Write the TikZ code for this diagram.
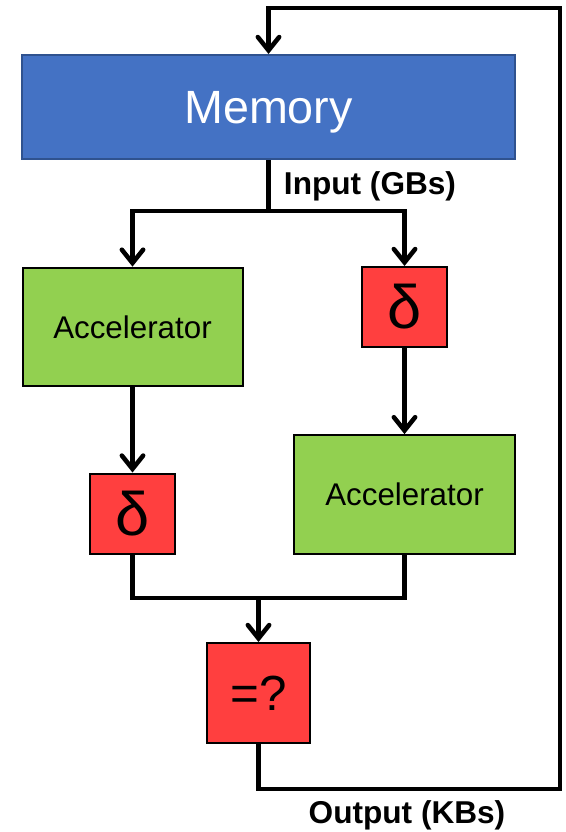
\documentclass[tikz,border=0pt]{standalone}
\usepackage{fontspec}
\setmainfont{Liberation Sans}
\usetikzlibrary{arrows.meta}
\definecolor{memblue}{HTML}{4472C4}
\definecolor{memedge}{HTML}{2F528F}
\definecolor{accgreen}{HTML}{92D050}
\definecolor{dred}{HTML}{FF3F3F}
\tikzset{
  box/.style={draw=black, line width=1.5pt, inner sep=0pt, anchor=center},
  membox/.style={box, fill=memblue, draw=memedge, text=white, font=\fontsize{35}{40}\selectfont},
  accbox/.style={box, fill=accgreen, font=\fontsize{23.5}{28}\selectfont},
  redbox/.style={box, fill=dred},
  conn/.style={line width=3.4pt, line join=miter},
  arr/.style={conn, -{Straight Barb[length=10pt,width=16pt,line cap=round]}},
  lbl/.style={font=\fontsize{23.7}{28}\selectfont\bfseries, inner sep=0pt}
}
\begin{document}
\begin{tikzpicture}[x=0.75pt, y=-0.75pt]
\useasboundingbox (0,0) rectangle (566,832);
\node[membox, minimum width=369.75pt, minimum height=78pt, text depth=-2pt] (mem) at (268.5,107) {Memory};
\node[accbox, minimum width=165pt, minimum height=89pt] (acc1) at (132.5,327) {Accelerator};
\node[redbox, minimum width=63.75pt, minimum height=60pt, font=\fontsize{46}{50}\selectfont] (d2) at (404.5,307) {δ};
\node[redbox, minimum width=63.75pt, minimum height=60pt, font=\fontsize{46}{50}\selectfont] (d1) at (132.5,513.5) {δ};
\node[accbox, minimum width=165.75pt, minimum height=89pt] (acc2) at (404.5,494.5) {Accelerator};
\node[redbox, minimum width=77pt, minimum height=75pt, font=\fontsize{37}{40}\selectfont] (eq) at (258.5,693) {=?};
\coordinate (split) at (268.5,211);
\coordinate (merge) at (258.5,598);
\coordinate (c1) at (560,789);
\coordinate (c2) at (560,8);
\draw[conn] (mem.south) -- (split);
\draw[arr] (split) -| (acc1.north);
\draw[arr] (split) -| (d2.north);
\draw[arr] (acc1.south) -- (d1.north);
\draw[arr] (d2.south) -- (acc2.north);
\draw[conn] (d1.south) |- (merge);
\draw[conn] (acc2.south) |- (merge);
\draw[arr] (merge) -- (eq.north);
\draw[arr] (eq.south) |- (c1) -- (c2) -| (mem.north);
\node[lbl] (inlbl) at (370,186) {Input (GBs)};
\node[lbl] (outlbl) at (407,815) {Output (KBs)};
\end{tikzpicture}
\end{document}
